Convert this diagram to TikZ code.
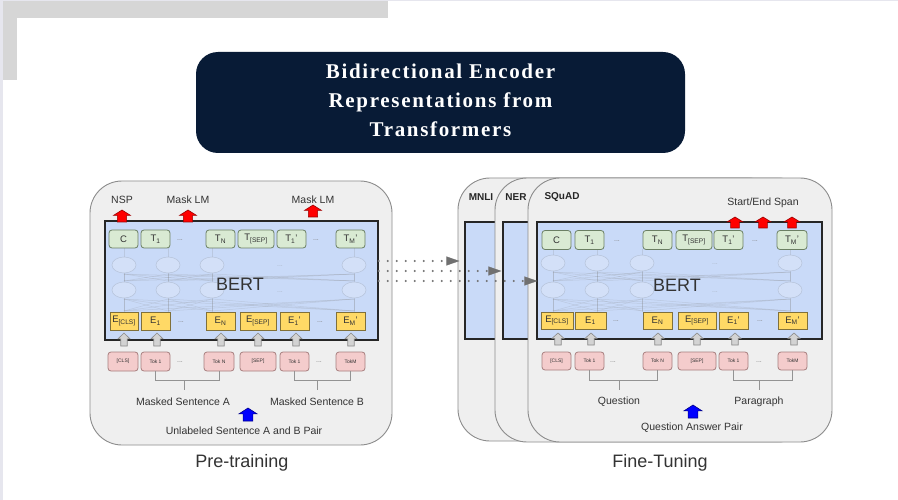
\documentclass[tikz,border=0pt]{standalone}
\usepackage{fontspec}
\setmainfont{Liberation Sans}
\newfontfamily\titlefont[LetterSpace=8]{Liberation Serif}
\usetikzlibrary{arrows.meta}

\definecolor{panelfill}{HTML}{EFEFEF}
\definecolor{panelline}{HTML}{8C8C8C}
\definecolor{bertblue}{HTML}{C9DAF8}
\definecolor{greenfill}{HTML}{D9EAD3}
\definecolor{greenline}{HTML}{6B7F63}
\definecolor{yellowfill}{HTML}{FFD966}
\definecolor{yellowline}{HTML}{80703A}
\definecolor{pinkfill}{HTML}{F4CCCC}
\definecolor{pinkline}{HTML}{A77E7E}
\definecolor{textgray}{HTML}{333333}
\definecolor{framegray}{HTML}{D6D6D6}
\definecolor{lavender}{HTML}{E6E6EE}
\definecolor{navy}{HTML}{081B36}
\definecolor{redfill}{HTML}{FF0000}
\definecolor{redline}{HTML}{9A0000}
\definecolor{bluefill}{HTML}{0000FF}
\definecolor{blueline}{HTML}{00008A}
\definecolor{arrowfill}{HTML}{D3D3D3}
\definecolor{arrowline}{HTML}{8A8A8A}
\definecolor{dotgray}{HTML}{707070}
\definecolor{neuronfill}{HTML}{D3E0F8}
\definecolor{neuronline}{HTML}{B5C2D8}

\newcommand{\uparrowshape}[5]{%
  \path[#1, shift={(#2,#3)}, xscale=#4, yscale=#5]
    (-0.27,0) -- (-0.27,-0.55) -- (-0.5,-0.55) -- (0,-1) -- (0.5,-0.55) -- (0.27,-0.55) -- (0.27,0) -- cycle;}

\begin{document}
\begin{tikzpicture}[x=1pt,y=-1pt,
  panel/.style={draw=panelline, fill=panelfill, line width=0.9pt, rounded corners=32pt, inner sep=0pt},
  bertbox/.style={draw=black!85, fill=bertblue, line width=1.3pt, inner sep=0pt},
  tbox/.style={draw=greenline, fill=greenfill, line width=0.8pt, rounded corners=3pt, inner sep=0pt, text=textgray, font=\fontsize{9.5}{10}\selectfont},
  ebox/.style={draw=yellowline, fill=yellowfill, line width=0.8pt, inner sep=0pt, text=textgray, font=\fontsize{9.5}{10}\selectfont},
  tokbox/.style={draw=pinkline, fill=pinkfill, line width=0.8pt, rounded corners=3pt, inner sep=0pt, text=textgray, font=\fontsize{5}{6}\selectfont},
  rowdots/.style={text=gray, font=\fontsize{7}{7}\selectfont, inner sep=0pt},
  lbl/.style={text=textgray, font=\fontsize{10.5}{12}\selectfont, inner sep=0pt},
  tasklbl/.style={text=black!85, font=\bfseries\fontsize{10}{11}\selectfont, inner sep=0pt},
  biglbl/.style={text=textgray, font=\fontsize{18}{20}\selectfont, inner sep=0pt},
  bracket/.style={draw=gray!85, line width=1pt},
  net/.style={draw=gray, opacity=0.2, line width=0.5pt},
  neuron/.style={draw=neuronline, fill=neuronfill, line width=0.5pt},
  redarrow/.style={draw=redline, fill=redfill, line width=0.6pt},
  bluearrow/.style={draw=blueline, fill=bluefill, line width=0.6pt},
  grayarrow/.style={draw=arrowline, fill=arrowfill, line width=0.6pt},
  dotarrow/.style={draw=dotgray, line width=2.2pt, line cap=round, dash pattern=on 0pt off 9pt,
    -{Triangle[length=13pt,width=9pt,line width=0.1pt]}}
]
\useasboundingbox (0,0) rectangle (898,500);
% background and frame
\fill[white] (0,0) rectangle (898,500);
\fill[lavender] (0,0) rectangle (898,1.2);
\fill[lavender] (0,0) rectangle (2.5,500);
\fill[framegray] (2.5,1.2) rectangle (388,18);
\fill[framegray] (2.5,1.2) rectangle (17,80);

% title
\node[fill=navy, rounded corners=22pt, minimum width=489pt, minimum height=101pt, inner sep=0pt] (titlebox) at (440.5,102.5) {};
\node[text=white, align=center, inner sep=0pt, font=\titlefont\bfseries\fontsize{21}{29}\selectfont] (title) at (440.5,100) {Bidirectional Encoder\\Representations from\\Transformers};

% ================= PRE-TRAINING =================
\node[panel, minimum width=302pt, minimum height=264pt] (prePanel) at (241,313) {};
\node[bertbox, minimum width=273pt, minimum height=119pt] (preBert) at (241.5,280.5) {};

% faint network
\foreach \a in {124,168,212,354}{
  \draw[neuron] (\a,265) ellipse [x radius=12, y radius=8];
  \draw[neuron] (\a,290) ellipse [x radius=12, y radius=8];
}
\foreach \a in {124,168,212,354}{
  \draw[net] (\a,248) -- (\a,257);
  \draw[net] (\a,273) -- (\a,282);
  \draw[net] (\a,298) -- (\a,312);
  \foreach \b in {124,168,212,354}{
    \draw[net] (\a,274) -- (\b,281);
    \draw[net] (\a,299) -- (\b,311);
  }
}
\node[rowdots, opacity=0.4] (pNd1) at (280,266) {...};
\node[rowdots, opacity=0.4] (pNd2) at (280,292) {...};
\node[biglbl] (preBertLbl) at (240,284) {BERT};

% output tokens
\foreach \n/\x/\w/\t in {1/123.5/29/{C}, 2/155.5/29/{T\textsubscript{1}}, 3/220.5/29/{T\textsubscript{N}},
    4/256/36/{T\textsubscript{[SEP]}}, 5/291.5/29/{T\textsubscript{1}'}, 6/350.5/29/{T\textsubscript{M}'}}{
  \node[tbox, minimum width=\w pt, minimum height=18pt] (pT\n) at (\x,239) {\t};
}
\node[rowdots] (pTd1) at (180,240) {...};
\node[rowdots] (pTd2) at (316,240) {...};

% embeddings
\foreach \n/\x/\w/\t in {1/124/28/{E\textsubscript{[CLS]}}, 2/155.5/29/{E\textsubscript{1}}, 3/220.5/29/{E\textsubscript{N}},
    4/258/36/{E\textsubscript{[SEP]}}, 5/294.5/29/{E\textsubscript{1}'}, 6/350.5/29/{E\textsubscript{M}'}}{
  \node[ebox, minimum width=\w pt, minimum height=18pt] (pE\n) at (\x,321) {\t};
}
\node[rowdots] (pEd1) at (181,322) {...};
\node[rowdots] (pEd2) at (320,322) {...};

% gray arrows
\foreach \x in {124,157,221,258,296,351}{
  \uparrowshape{grayarrow}{\x}{346}{12}{13}
}

% input tokens
\foreach \n/\x/\w/\t in {1/123/30/{[CLS]}, 2/155.5/29/{Tok 1}, 3/219/30/{Tok N},
    4/258/36/{[SEP]}, 5/294.5/29/{Tok 1}, 6/350.5/29/{TokM}}{
  \node[tokbox, minimum width=\w pt, minimum height=19pt] (pK\n) at (\x,361.5) {\t};
}
\node[rowdots] (pKd1) at (180,362) {...};
\node[rowdots] (pKd2) at (319,362) {...};

% brackets
\draw[bracket] (pK2.south) -- ++(0,9) -| (pK3.south);
\draw[bracket] (pK5.south) -- ++(0,9) -| (pK6.south);
\coordinate (pBrA) at (184,380);
\coordinate (pBrB) at (317,380);
\draw[bracket] (pBrA) -- ++(0,10);
\draw[bracket] (pBrB) -- ++(0,10);

% labels
\node[lbl] (nsp) at (122,200) {NSP};
\node[lbl] (mlm1) at (188,200) {Mask LM};
\node[lbl] (mlm2) at (313,200) {Mask LM};
\uparrowshape{redarrow}{122}{222}{17}{12}
\uparrowshape{redarrow}{188}{222}{17}{12}
\uparrowshape{redarrow}{313}{217}{17}{12}
\node[lbl] (msA) at (183,402) {Masked Sentence A};
\node[lbl] (msB) at (317,402) {Masked Sentence B};
\uparrowshape{bluearrow}{248}{421}{18}{13}
\node[lbl] (pair) at (244,431) {Unlabeled Sentence A and B Pair};
\node[biglbl] (preLbl) at (242,463) {Pre-training};

% ================= FINE-TUNING =================
\node[panel, minimum width=322pt, minimum height=263pt] (mnliPanel) at (619,309.5) {};
\node[bertbox, minimum width=295pt, minimum height=117pt] (mnliBert) at (612.5,280.5) {};
\node[panel, minimum width=315pt, minimum height=264pt] (nerPanel) at (652.5,310) {};
\node[bertbox, minimum width=292pt, minimum height=117pt] (nerBert) at (649,280.5) {};
\node[panel, minimum width=304pt, minimum height=264pt] (squadPanel) at (680,310) {};
\node[bertbox, minimum width=285pt, minimum height=117pt] (squadBert) at (679.5,280.5) {};

\node[tasklbl] (mnliLbl) at (481,197) {MNLI};
\node[tasklbl] (nerLbl) at (516,197) {NER};
\node[tasklbl] (squadLbl) at (562,197) {SQuAD};

% faint network
\foreach \a in {553,597,642,790}{
  \draw[neuron] (\a,263) ellipse [x radius=12, y radius=8];
  \draw[neuron] (\a,290) ellipse [x radius=12, y radius=8];
}
\foreach \a in {553,597,642,790}{
  \draw[net] (\a,249) -- (\a,255);
  \draw[net] (\a,271) -- (\a,282);
  \draw[net] (\a,298) -- (\a,312);
  \foreach \b in {553,597,642,790}{
    \draw[net] (\a,272) -- (\b,281);
    \draw[net] (\a,299) -- (\b,311);
  }
}
\node[rowdots, opacity=0.4] (fNd1) at (715,264) {...};
\node[rowdots, opacity=0.4] (fNd2) at (715,292) {...};
\node[biglbl] (fineBertLbl) at (677,285) {BERT};

% output tokens
\foreach \n/\x/\w/\t in {1/556.5/29/{C}, 2/589.5/29/{T\textsubscript{1}}, 3/657.5/29/{T\textsubscript{N}},
    4/694/36/{T\textsubscript{[SEP]}}, 5/728.5/29/{T\textsubscript{1}'}, 6/792/30/{T\textsubscript{M}'}}{
  \node[tbox, minimum width=\w pt, minimum height=19pt] (fT\n) at (\x,240) {\t};
}
\node[rowdots] (fTd1) at (617,241) {...};
\node[rowdots] (fTd2) at (755,241) {...};

% embeddings
\foreach \n/\x/\w/\t in {1/557/32/{E\textsubscript{[CLS]}}, 2/590.5/31/{E\textsubscript{1}}, 3/657.5/29/{E\textsubscript{N}},
    4/697/38/{E\textsubscript{[SEP]}}, 5/733.5/29/{E\textsubscript{1}'}, 6/792.5/29/{E\textsubscript{M}'}}{
  \node[ebox, minimum width=\w pt, minimum height=17pt] (fE\n) at (\x,320.5) {\t};
}
\node[rowdots] (fEd1) at (616,321) {...};
\node[rowdots] (fEd2) at (760,321) {...};

\foreach \x in {558,591,658,697,735,794}{
  \uparrowshape{grayarrow}{\x}{345}{12}{12}
}

% input tokens
\foreach \n/\x/\w/\t in {1/556.5/29/{[CLS]}, 2/589.5/29/{Tok 1}, 3/657.5/29/{Tok N},
    4/697/38/{[SEP]}, 5/733.5/29/{Tok 1}, 6/792.5/29/{TokM}}{
  \node[tokbox, minimum width=\w pt, minimum height=18pt] (fK\n) at (\x,361) {\t};
}
\node[rowdots] (fKd1) at (613,362) {...};
\node[rowdots] (fKd2) at (759,362) {...};

\draw[bracket] (fK2.south) -- ++(0,10) -| (fK3.south);
\draw[bracket] (fK5.south) -- ++(0,10) -| (fK6.south);
\coordinate (fBrA) at (619,380);
\coordinate (fBrB) at (759,380);
\draw[bracket] (fBrA) -- ++(0,10);
\draw[bracket] (fBrB) -- ++(0,10);

\node[lbl] (spanLbl) at (763,203) {Start/End Span};
\uparrowshape{redarrow}{735}{228}{16}{11}
\uparrowshape{redarrow}{763}{228}{16}{11}
\uparrowshape{redarrow}{792}{228}{16}{11}
\node[lbl] (qLbl) at (619,402) {Question};
\node[lbl] (pLbl) at (759,402) {Paragraph};
\uparrowshape{bluearrow}{693}{418}{18}{13}
\node[lbl] (qaLbl) at (692,428) {Question Answer Pair};
\node[biglbl] (fineLbl) at (660,463) {Fine-Tuning};

% dotted transfer arrows
\draw[dotarrow] (preBert.east |- 0,261) -- ([xshift=-5pt]mnliBert.west |- 0,261);
\draw[dotarrow] (preBert.east |- 0,271) -- ([xshift=-1pt]nerBert.west |- 0,271);
\draw[dotarrow] (preBert.east |- 0,281) -- ([xshift=1pt]squadBert.west |- 0,281);
\end{tikzpicture}
\end{document}
